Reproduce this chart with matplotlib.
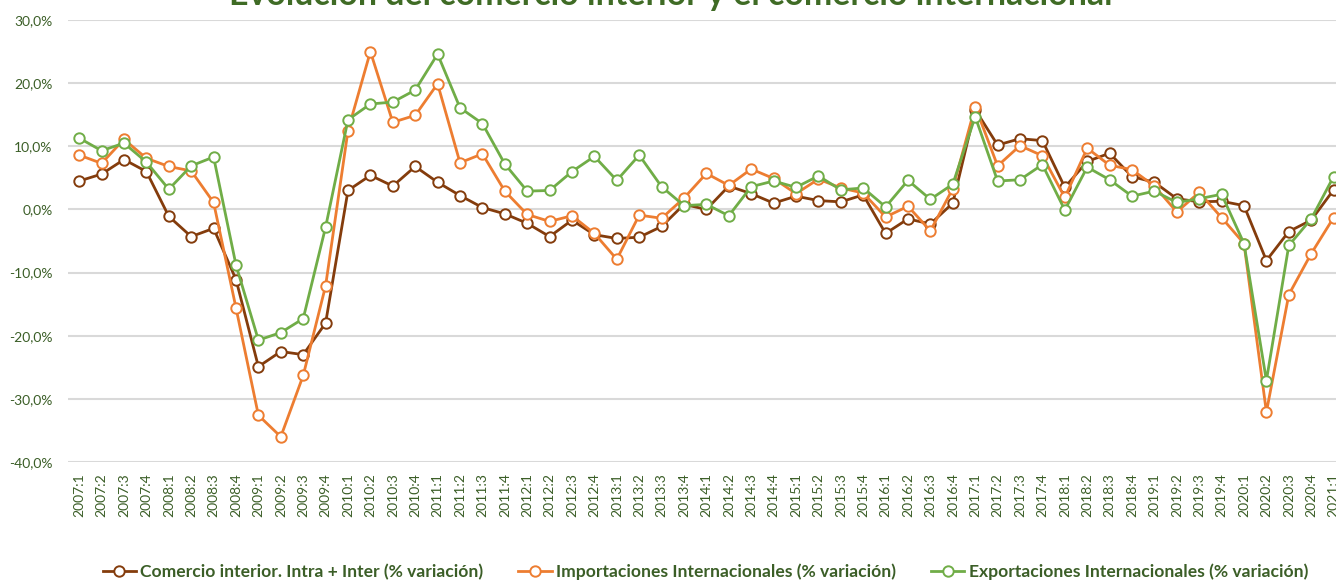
import matplotlib
matplotlib.use("Agg")
import matplotlib.pyplot as plt
from matplotlib.ticker import FuncFormatter

# quarters 2007:1 .. 2021:1
quarters = [f"{y}:{q}" for y in range(2007, 2021) for q in range(1, 5)] + ["2021:1"]

interior = [4.5, 5.6, 7.9, 6.0, -1.1, -4.3, -3.0, -11.1, -24.9, -22.5, -23.0, -18.0,
            3.0, 5.4, 3.7, 6.8, 4.3, 2.2, 0.3, -0.7, -2.2, -4.3, -1.7, -4.0,
            -4.6, -4.4, -2.7, 0.8, 0.0, 3.7, 2.5, 1.0, 2.1, 1.4, 1.2, 2.3,
            -3.8, -1.5, -2.3, 1.0, 15.8, 10.2, 11.2, 10.9, 3.5, 7.6, 8.9, 5.2,
            4.3, 1.7, 1.2, 1.3, 0.6, -8.1, -3.5, -1.7, 3.1]

importaciones = [8.6, 7.3, 11.1, 8.1, 6.8, 6.1, 1.1, -15.6, -32.6, -36.0, -26.3, -12.1,
                 12.5, 25.0, 13.8, 14.9, 19.9, 7.4, 8.8, 2.9, -0.8, -1.9, -1.0, -3.8,
                 -7.9, -0.9, -1.4, 1.8, 5.7, 3.8, 6.4, 4.9, 2.5, 4.8, 3.4, 2.6,
                 -1.2, 0.5, -3.4, 3.3, 16.3, 6.9, 10.1, 8.5, 1.9, 9.7, 7.0, 6.3,
                 3.7, -0.4, 2.7, -1.3, -5.4, -32.1, -13.5, -7.0, -1.3]

exportaciones = [11.3, 9.3, 10.5, 7.5, 3.2, 6.9, 8.3, -8.8, -20.7, -19.5, -17.3, -2.8,
                 14.2, 16.7, 17.0, 18.9, 24.6, 16.1, 13.6, 7.2, 2.9, 3.0, 6.0, 8.4,
                 4.6, 8.6, 3.6, 0.6, 0.8, -1.0, 3.6, 4.5, 3.5, 5.3, 3.1, 3.4,
                 0.4, 4.6, 1.6, 4.0, 14.7, 4.5, 4.7, 7.1, -0.1, 6.7, 4.7, 2.1,
                 2.9, 1.1, 1.7, 2.4, -5.4, -27.1, -5.7, -1.5, 5.2]

labels = ["Comercio interior. Intra + Inter (% variación)",
          "Importaciones Internacionales (% variación)",
          "Exportaciones Internacionales (% variación)"]
colors = ["#843C0C", "#ED7D31", "#70AD47"]
txt = "#3B5E27"

plt.rcParams['font.family'] = ['Lato', 'DejaVu Sans']

fig = plt.figure(figsize=(13.36, 5.81), dpi=100)
ax = fig.add_axes([68 / 1336, 119 / 581, 57 * 22.4 / 1336, 442 / 581])

x = list(range(len(quarters)))
for serie, lab, col in zip([interior, importaciones, exportaciones], labels, colors):
    ax.plot(x, serie, color=col, lw=2, marker='o', ms=7.5, mfc='white',
            mec=col, mew=1.4, label=lab, zorder=3)

ax.set_xlim(-0.5, len(quarters) - 0.5)
ax.set_ylim(-40, 30)
ax.set_yticks(range(-40, 31, 10))
ax.yaxis.set_major_formatter(FuncFormatter(lambda v, p: f"{v:.1f}%".replace(".", ",")))
ax.set_xticks(x)
ax.set_xticklabels(quarters, rotation=90, fontsize=10, color=txt)
ax.tick_params(axis='y', labelsize=10, colors=txt, length=0, pad=11)
ax.tick_params(axis='x', length=0, pad=8)
ax.grid(axis='y', color='#D9D9D9', lw=1.5)
ax.set_axisbelow(True)
for s in ax.spines.values():
    s.set_visible(False)

# title, cut at the top edge as in the original
fig.text(0.502, 1 - 5 / 581, "Evolución del comercio interior y el comercio internacional",
         ha='center', va='baseline', fontsize=24.4, fontweight='bold', color="#3F6B25")

leg = fig.legend(loc='center', bbox_to_anchor=(0.528, 9 / 581), ncol=3, frameon=False,
                 prop={'weight': 'bold', 'size': 12.6}, columnspacing=2.0,
                 handlelength=1.9, handletextpad=0.25)
for t in leg.get_texts():
    t.set_color(txt)

fig.savefig("out.png", dpi=100)
